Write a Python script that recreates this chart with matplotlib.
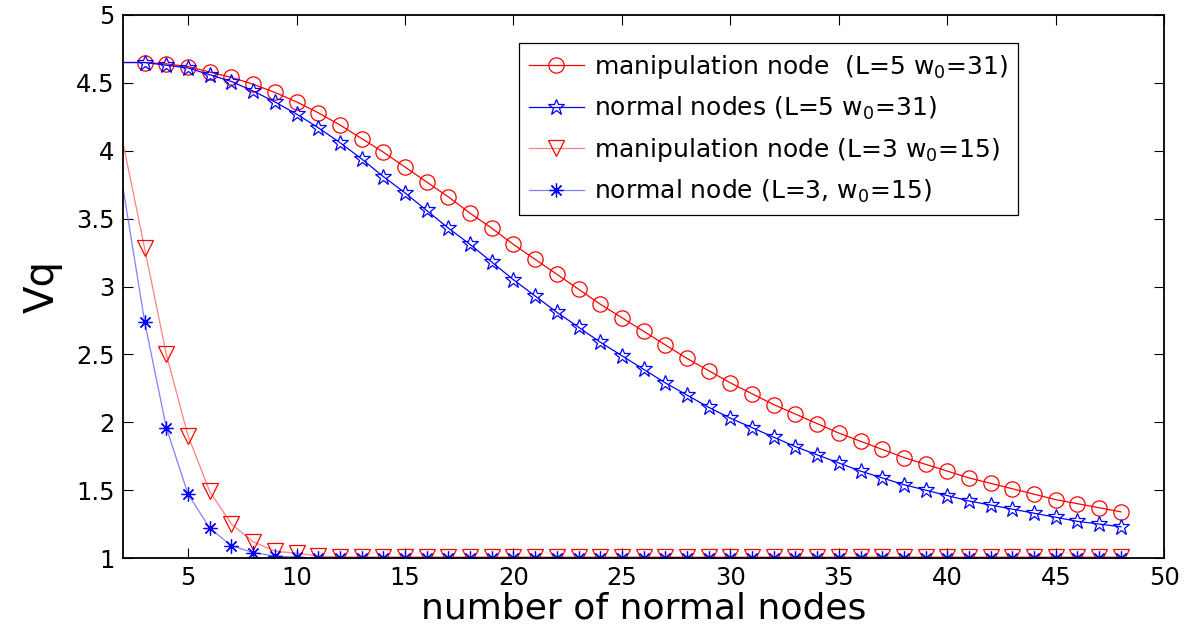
import matplotlib.pyplot as plt

plt.rcParams['font.family'] = ['DejaVu Sans']
plt.rcParams['mathtext.default'] = 'regular'

# number of normal nodes
x_nodes = list(range(2, 49))

# manipulation node (L=5, w0=31)
vq_manip_l5 = [4.65, 4.65, 4.64, 4.62, 4.58, 4.54, 4.49, 4.43, 4.36, 4.28, 4.19,
               4.09, 3.99, 3.88, 3.77, 3.66, 3.54, 3.43, 3.31, 3.20, 3.09, 2.98,
               2.87, 2.77, 2.67, 2.57, 2.47, 2.38, 2.29, 2.21, 2.13, 2.06, 1.99,
               1.92, 1.86, 1.80, 1.74, 1.69, 1.64, 1.59, 1.55, 1.51, 1.47, 1.43,
               1.40, 1.37, 1.34]
# normal nodes (L=5, w0=31)
vq_normal_l5 = [4.65, 4.65, 4.63, 4.61, 4.56, 4.51, 4.44, 4.36, 4.27, 4.17, 4.06,
                3.94, 3.81, 3.69, 3.56, 3.43, 3.31, 3.18, 3.05, 2.93, 2.81, 2.70,
                2.59, 2.49, 2.39, 2.29, 2.20, 2.11, 2.03, 1.96, 1.89, 1.82, 1.76,
                1.70, 1.64, 1.59, 1.54, 1.50, 1.46, 1.42, 1.39, 1.36, 1.33, 1.30,
                1.27, 1.25, 1.23]
# manipulation node (L=3, w0=15)
vq_manip_l3 = [4.06, 3.28, 2.50, 1.90, 1.49, 1.25, 1.12, 1.05, 1.035, 1.015] + [1.008] * 37
# normal node (L=3, w0=15)
vq_normal_l3 = [3.73, 2.74, 1.96, 1.47, 1.22, 1.09, 1.04, 1.015, 1.005] + [1.0] * 38

labels = ['manipulation node  (L=5 w$_0$=31)',
          'normal nodes (L=5 w$_0$=31)',
          'manipulation node (L=3 w$_0$=15)',
          'normal node (L=3, w$_0$=15)']

fig = plt.figure(figsize=(11.88, 6.25), dpi=100)
ax = fig.add_axes([0.1035, 0.1072, 0.8765, 0.8688])

mk = slice(1, None)
ax.plot(x_nodes, vq_manip_l5, color='#ff0000', lw=0.9, marker='o', ms=11,
        mfc='none', mec='#ff0000', mew=0.9, markevery=mk, label=labels[0])
ax.plot(x_nodes, vq_normal_l5, color='#0000ff', lw=0.9, marker='*', ms=12,
        mfc='none', mec='#0000ff', mew=0.9, markevery=mk, label=labels[1])
ax.plot(x_nodes, vq_manip_l3, color='#ff8080', lw=0.9, marker='v', ms=12,
        mfc='none', mec='#ff0000', mew=0.9, markevery=mk, label=labels[2])
ax.plot(x_nodes, vq_normal_l3, color='#8080ff', lw=0.9, marker=(8, 2, 0), ms=10,
        mfc='none', mec='#0000ff', mew=0.9, markevery=mk, label=labels[3])

ax.set_xlim(2, 50)
ax.set_ylim(1, 5)
ax.set_xticks(range(5, 51, 5))
ax.set_yticks([1, 1.5, 2, 2.5, 3, 3.5, 4, 4.5, 5])
ax.set_yticklabels(['1', '1.5', '2', '2.5', '3', '3.5', '4', '4.5', '5'])
ax.tick_params(direction='in', top=True, right=True, length=7, width=0.8,
               labelsize=17.5, pad=6)
for s in ax.spines.values():
    s.set_linewidth(1.3)

ax.set_xlabel('number of normal nodes', fontsize=26, labelpad=1)
ax.set_ylabel('Vq', fontsize=29, labelpad=10)

leg = ax.legend(loc='upper left', bbox_to_anchor=(0.38, 0.948), borderaxespad=0,
                fontsize=18, fancybox=False, edgecolor='black', framealpha=1,
                handlelength=2.2, labelspacing=0.55, borderpad=0.4,
                handletextpad=0.4)
leg.get_frame().set_linewidth(0.9)

fig.savefig('out.png', dpi=100)
